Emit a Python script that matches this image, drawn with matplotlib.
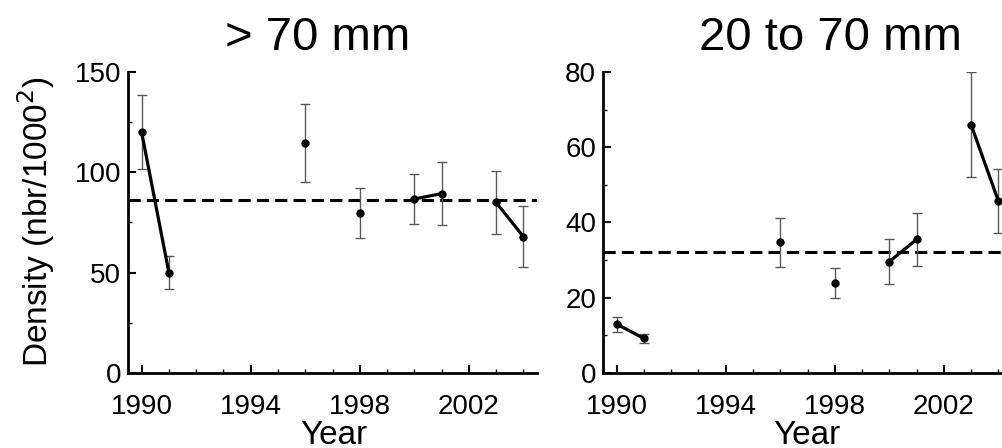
import numpy as np
import matplotlib.pyplot as plt
from matplotlib.ticker import MultipleLocator, FixedLocator

plt.rcParams['font.family'] = ['Liberation Sans', 'DejaVu Sans']

nan = np.nan
years = np.arange(1990, 2005)
year_ticks = [1990, 1994, 1998, 2002]

# > 70 mm
large_mean = [120, 50, nan, nan, nan, nan, 114.6, nan, 79.7, nan, 86.7, 89.4, nan, 85, 68]
large_err = [18.5, 8.3, nan, nan, nan, nan, 19.3, nan, 12.6, nan, 12.5, 15.6, nan, 15.5, 15]
large_ref = 86.1

# 20 to 70 mm
small_mean = [13.0, 9.2, nan, nan, nan, nan, 34.7, nan, 24.0, nan, 29.6, 35.5, nan, 66.0, 45.7]
small_err = [2.0, 1.2, nan, nan, nan, nan, 6.4, nan, 4.0, nan, 5.9, 7.1, nan, 14.0, 8.6]
small_ref = 32.1

titles = ['> 70 mm', '20 to 70 mm']
ylabel = 'Density (nbr/1000$^2$)'
xlabel = 'Year'


def draw(ax, means, errs, ref, ymax, ymajor, yminor):
    means = np.array(means, dtype=float)
    errs = np.array(errs, dtype=float)
    ax.axhline(ref, color='black', lw=2.2, ls=(0, (4, 2)), zorder=1)
    ax.errorbar(years, means, yerr=errs, fmt='none', ecolor='0.35', elinewidth=1.0,
                capsize=3.5, capthick=1.0, zorder=2)
    ax.plot(years, means, color='black', lw=2.3, marker='o', ms=5, zorder=3)
    ax.set_xlim(1989.5, 2004.5)
    ax.set_ylim(0, ymax)
    ax.xaxis.set_major_locator(FixedLocator(year_ticks))
    ax.xaxis.set_minor_locator(MultipleLocator(1))
    ax.yaxis.set_major_locator(MultipleLocator(ymajor))
    ax.yaxis.set_minor_locator(MultipleLocator(yminor))
    ax.spines['top'].set_visible(False)
    ax.spines['right'].set_visible(False)
    for s in ['left', 'bottom']:
        ax.spines[s].set_linewidth(2.0)
    ax.tick_params(which='major', direction='in', length=6, width=1.5, labelsize=20)
    ax.tick_params(which='minor', direction='in', length=3, width=1.0)
    ax.tick_params(axis='x', which='major', pad=15)
    ax.tick_params(axis='y', which='major', pad=5)
    ax.set_facecolor('none')


fig = plt.figure(figsize=(10.02, 4.48), dpi=100)
ax1 = fig.add_axes([128 / 1002, 75 / 448, 409 / 1002, 301 / 448])
ax2 = fig.add_axes([603 / 1002, 75 / 448, 409 / 1002, 301 / 448])

draw(ax1, large_mean, large_err, large_ref, 150, 50, 25)
draw(ax2, small_mean, small_err, small_ref, 80, 20, 10)

fig.text(318 / 1002, 1 - 50 / 448, titles[0], fontsize=34, ha='center', va='baseline')
fig.text(830 / 1002, 1 - 50 / 448, titles[1], fontsize=34, ha='center', va='baseline')
fig.text(36 / 1002, 1 - 222 / 448, ylabel, fontsize=24, rotation=90, ha='center', va='center')
fig.text(334 / 1002, 1 - 420 / 448, xlabel, fontsize=24, ha='center', va='top')
fig.text(807 / 1002, 1 - 420 / 448, xlabel, fontsize=24, ha='center', va='top')

fig.savefig('out.png', dpi=100)
